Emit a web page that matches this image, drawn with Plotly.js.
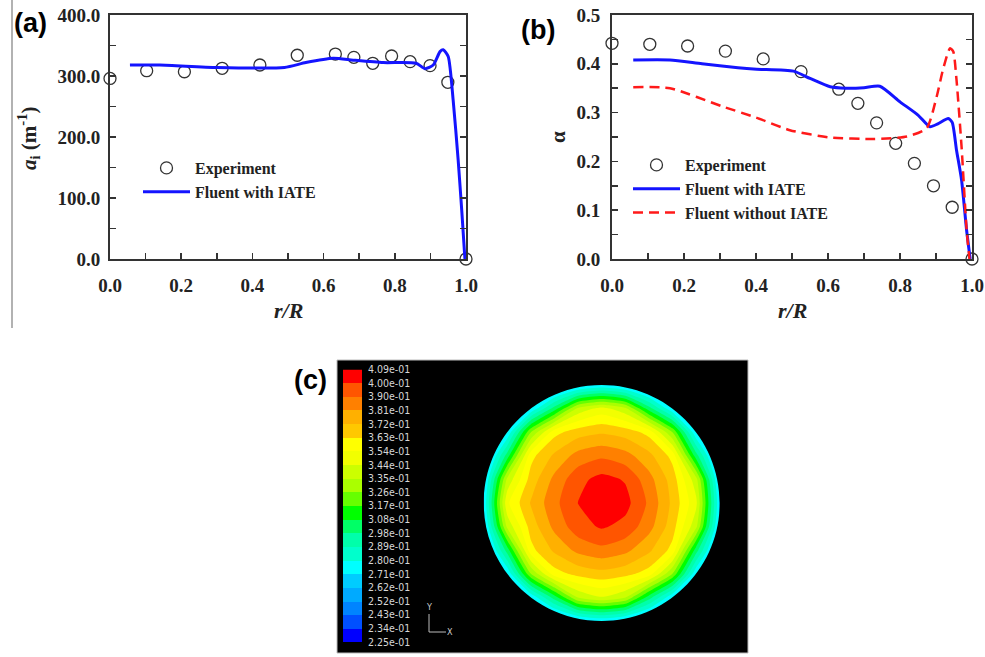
<!DOCTYPE html>
<html><head><meta charset="utf-8">
<script src="https://cdn.plot.ly/plotly-3.0.1.min.js"></script>
<style>html,body{margin:0;padding:0;background:#fff}#chart{width:985px;height:657px}</style>
</head><body><div id="chart"></div>
<script>
// ---------- Panel (a): interfacial area concentration ----------
const aExpR  = [0, 0.103, 0.209, 0.315, 0.421, 0.526, 0.633, 0.685, 0.738, 0.791, 0.843, 0.899, 0.949, 1.0];
const aExpAi = [296, 308.7, 307, 312.6, 318, 334, 336, 330.6, 320.8, 332.8, 323.5, 317, 289.7, 0];
const aFluR  = [0.056, 0.14, 0.30, 0.49, 0.55, 0.627, 0.683, 0.768, 0.86, 0.885, 0.908, 0.927, 0.936, 0.95, 0.964, 0.978, 0.988, 0.997];
const aFluAi = [318, 318, 314, 314, 322, 329, 326, 322, 321, 312, 318, 340, 343, 332, 260, 162, 80, 0];

// ---------- Panel (b): void fraction ----------
const bExpR      = [0, 0.105, 0.21, 0.315, 0.42, 0.525, 0.63, 0.683, 0.735, 0.788, 0.84, 0.893, 0.945, 1.0];
const bExpAlpha  = [0.442, 0.44, 0.4365, 0.426, 0.41, 0.384, 0.348, 0.319, 0.279, 0.237, 0.196, 0.15, 0.106, 0.0];
const bIateR     = [0.059, 0.161, 0.25, 0.35, 0.402, 0.504, 0.55, 0.606, 0.65, 0.70, 0.744, 0.80, 0.85, 0.883, 0.905, 0.934, 0.945, 0.957, 0.971, 0.985, 0.995];
const bIateAlpha = [0.408, 0.408, 0.400, 0.392, 0.389, 0.385, 0.370, 0.353, 0.350, 0.351, 0.354, 0.322, 0.295, 0.271, 0.277, 0.288, 0.280, 0.223, 0.162, 0.059, 0.0];
const bNoR       = [0.059, 0.161, 0.309, 0.40, 0.494, 0.606, 0.726, 0.819, 0.874, 0.902, 0.92, 0.939, 0.948, 0.957, 0.971, 0.985, 0.993];
const bNoAlpha   = [0.352, 0.35, 0.312, 0.29, 0.264, 0.249, 0.246, 0.251, 0.268, 0.333, 0.39, 0.432, 0.425, 0.367, 0.23, 0.06, 0.0];

// ---------- Panel (c): cross-section void fraction contour ----------
const gridX = [-1, -0.8, -0.6, -0.4, -0.2, 0, 0.2, 0.4, 0.6, 0.8, 1];
const gridY = [-1, -0.8, -0.6, -0.4, -0.2, 0, 0.2, 0.4, 0.6, 0.8, 1];
const alphaGrid = [
  [0.235, 0.240, 0.245, 0.255, 0.266, 0.272, 0.266, 0.255, 0.245, 0.240, 0.235],
  [0.240, 0.250, 0.272, 0.303, 0.336, 0.344, 0.336, 0.303, 0.272, 0.250, 0.240],
  [0.245, 0.272, 0.326, 0.359, 0.366, 0.369, 0.366, 0.359, 0.326, 0.272, 0.245],
  [0.255, 0.303, 0.360, 0.374, 0.384, 0.388, 0.384, 0.374, 0.360, 0.303, 0.255],
  [0.266, 0.338, 0.367, 0.384, 0.396, 0.401, 0.397, 0.385, 0.367, 0.338, 0.266],
  [0.272, 0.352, 0.373, 0.388, 0.400, 0.409, 0.403, 0.389, 0.370, 0.347, 0.272],
  [0.266, 0.338, 0.367, 0.384, 0.397, 0.403, 0.399, 0.385, 0.368, 0.339, 0.266],
  [0.255, 0.303, 0.360, 0.374, 0.385, 0.389, 0.385, 0.375, 0.360, 0.303, 0.255],
  [0.245, 0.272, 0.326, 0.360, 0.368, 0.371, 0.368, 0.360, 0.326, 0.272, 0.245],
  [0.240, 0.250, 0.272, 0.303, 0.338, 0.348, 0.338, 0.303, 0.272, 0.250, 0.240],
  [0.235, 0.240, 0.245, 0.255, 0.266, 0.272, 0.266, 0.255, 0.245, 0.240, 0.235]
];
const levelValues = [0.225, 0.2342, 0.2434, 0.2526, 0.2618, 0.271, 0.2802, 0.2894, 0.2986, 0.3078, 0.317,
                     0.3262, 0.3354, 0.3446, 0.3538, 0.363, 0.3722, 0.3814, 0.3906, 0.3998, 0.409];
const levelLabels = ["2.25e-01","2.34e-01","2.43e-01","2.52e-01","2.62e-01","2.71e-01","2.80e-01","2.89e-01",
                     "2.98e-01","3.08e-01","3.17e-01","3.26e-01","3.35e-01","3.44e-01","3.54e-01","3.63e-01",
                     "3.72e-01","3.81e-01","3.90e-01","4.00e-01","4.09e-01"];
const bandColors = ["#0000ff","#0050ff","#0084ff","#00aaff","#00ccff","#00ffff","#00ffcc","#00ffaa","#00ff66","#00ff00",
                    "#66ff00","#aaff00","#ccff00","#f2ff00","#ffff00","#ffc800","#ffb000","#ff8000","#ff5500","#ff0000"];

// ---------- helpers (style only) ----------
const W = 985, H = 657;
const px = v => v / W;            // pixel -> paper x
const py = v => 1 - v / H;        // pixel -> paper y
const serif = '"Liberation Serif", "Times New Roman", Times, serif';
const sans = '"Liberation Sans", Arial, sans-serif';
const narrow = '"Liberation Sans Narrow", "Arial Narrow", "DejaVu Sans Condensed", sans-serif';
const ink = '#222';

function frameAxis(extra) {
  return Object.assign({
    showgrid: false, zeroline: false, showline: true, linecolor: '#333', linewidth: 2,
    ticks: 'inside', ticklen: 6, tickwidth: 1.5, tickcolor: '#333',
    tickfont: {family: serif, size: 19, color: ink, weight: 'bold'},
    fixedrange: true
  }, extra);
}
function note(text, x, y, font, extra) {
  return Object.assign({text, x: px(x), y: py(y), xref: 'paper', yref: 'paper', showarrow: false,
                        xanchor: 'center', yanchor: 'middle', font}, extra || {});
}

const nBands = bandColors.length;
// contour fill colour of band k is sampled at normalized (k+1)/(nBands+1)
const contourScale = [[0, bandColors[0]]];
for (let k = 0; k < nBands; k++) contourScale.push([(k + 1) / (nBands + 1), bandColors[k]]);
contourScale.push([1, bandColors[nBands - 1]]);
const heatScale = [];
bandColors.forEach((c, k) => { heatScale.push([k / nBands, c]); heatScale.push([(k + 1) / nBands, c]); });

const kc = 0.5523;
const maskPath = 'M -1.3,-1.3 H 1.3 V 1.3 H -1.3 Z ' +
  `M 1,0 C 1,${kc} ${kc},1 0,1 C ${-kc},1 -1,${kc} -1,0 C -1,${-kc} ${-kc},-1 0,-1 C ${kc},-1 1,${-kc} 1,0 Z`;

const traces = [
  {type: 'scatter', mode: 'markers', x: aExpR, y: aExpAi, name: '<b>Experiment</b>', legend: 'legend',
   xaxis: 'x', yaxis: 'y', cliponaxis: false,
   marker: {symbol: 'circle-open', size: 12, color: '#333', line: {width: 1.3}}},
  {type: 'scatter', mode: 'lines', x: aFluR, y: aFluAi, name: '<b>Fluent with IATE</b>', legend: 'legend',
   xaxis: 'x', yaxis: 'y', line: {color: '#1414ff', width: 3, shape: 'spline', smoothing: 0.6}},
  {type: 'scatter', mode: 'markers', x: bExpR, y: bExpAlpha, name: '<b>Experiment</b>', legend: 'legend2',
   xaxis: 'x2', yaxis: 'y2', cliponaxis: false,
   marker: {symbol: 'circle-open', size: 12, color: '#333', line: {width: 1.3}}},
  {type: 'scatter', mode: 'lines', x: bIateR, y: bIateAlpha, name: '<b>Fluent with IATE</b>', legend: 'legend2',
   xaxis: 'x2', yaxis: 'y2', line: {color: '#1414ff', width: 3, shape: 'spline', smoothing: 0.6}},
  {type: 'scatter', mode: 'lines', x: bNoR, y: bNoAlpha, name: '<b>Fluent without IATE</b>', legend: 'legend2',
   xaxis: 'x2', yaxis: 'y2', line: {color: '#ff1a1a', width: 2.5, dash: '10px,6px', shape: 'spline', smoothing: 0.6}},
  {type: 'contour', x: gridX, y: gridY, z: alphaGrid, xaxis: 'x3', yaxis: 'y3',
   autocontour: false,
   contours: {start: levelValues[0], end: levelValues[levelValues.length - 1],
              size: (levelValues[levelValues.length - 1] - levelValues[0]) / nBands,
              coloring: 'fill', showlines: false},
   line: {width: 0, smoothing: 0.55}, colorscale: contourScale, showscale: false, showlegend: false, hoverinfo: 'skip'},
  {type: 'heatmap', x: [0, 1], y: levelValues, z: bandColors.map((c, i) => [i]), xaxis: 'x4', yaxis: 'y4',
   colorscale: heatScale, zmin: -0.5, zmax: nBands - 0.5, showscale: false, showlegend: false, hoverinfo: 'skip'}
];

const legendBase = {
  bgcolor: 'rgba(0,0,0,0)', borderwidth: 0, xanchor: 'left', yanchor: 'top',
  font: {family: serif, size: 16, color: ink}, itemwidth: 47, tracegroupgap: 0
};

const layout = {
  width: W, height: H, margin: {l: 0, r: 0, t: 0, b: 0},
  paper_bgcolor: '#fff', plot_bgcolor: 'rgba(0,0,0,0)', showlegend: true,
  legend: Object.assign({}, legendBase, {x: px(138), y: py(151)}),
  legend2: Object.assign({}, legendBase, {x: px(628), y: py(148)}),
  xaxis: frameAxis({domain: [px(110), px(466)], range: [0, 1], dtick: 0.2, tickformat: '.1f', mirror: true,
                    anchor: 'y', ticklabelstandoff: 8,
                    minor: {dtick: 0.1, ticks: 'inside', ticklen: 6, tickwidth: 1.5, tickcolor: '#333'}}),
  yaxis: frameAxis({domain: [py(259), py(15)], range: [0, 400], dtick: 100, tickformat: '.1f', mirror: 'ticks',
                    anchor: 'x', ticklabelstandoff: 4,
                    minor: {dtick: 50, ticks: 'inside', ticklen: 6, tickwidth: 1.5, tickcolor: '#333'}}),
  xaxis2: frameAxis({domain: [px(612), px(972)], range: [0, 1], dtick: 0.2, tickformat: '.1f', mirror: true,
                     anchor: 'y2', ticklabelstandoff: 8,
                     minor: {dtick: 0.1, ticks: 'inside', ticklen: 6, tickwidth: 1.5, tickcolor: '#333'}}),
  yaxis2: frameAxis({domain: [py(259), py(15)], range: [0, 0.5], dtick: 0.1, tickformat: '.1f', mirror: 'ticks',
                     anchor: 'x2', ticklabelstandoff: 6,
                     minor: {dtick: 0.05, ticks: 'inside', ticklen: 6, tickwidth: 1.5, tickcolor: '#333'}}),
  xaxis3: {domain: [px(470), px(735)], range: [-1.1161, 1.1297], visible: false, anchor: 'y3', fixedrange: true},
  yaxis3: {domain: [py(640), py(370)], range: [-1.1610, 1.1271], visible: false, anchor: 'x3', fixedrange: true},
  xaxis4: {domain: [px(343), px(362)], range: [0, 1], visible: false, anchor: 'y4', fixedrange: true},
  yaxis4: {domain: [py(642), py(369.5)], range: [levelValues[0], levelValues[levelValues.length - 1]],
           anchor: 'x4', side: 'right', showgrid: false, zeroline: false, showline: false, ticks: '',
           tickvals: levelValues, ticktext: levelLabels, ticklabelstandoff: 5, fixedrange: true,
           tickfont: {family: narrow, size: 10.5, color: '#d6d6d6'}},
  shapes: [
    {type: 'line', xref: 'paper', yref: 'paper', x0: px(12), x1: px(12), y0: py(328), y1: 1,
     line: {color: '#999', width: 1.5}},
    {type: 'rect', xref: 'paper', yref: 'paper', x0: px(337), x1: px(748), y0: py(653), y1: py(360),
     fillcolor: '#000', line: {color: '#bbb', width: 1}, layer: 'below'},
    {type: 'path', xref: 'x3', yref: 'y3', path: maskPath, fillcolor: '#000', fillrule: 'evenodd',
     line: {width: 0}, layer: 'above'},
    {type: 'line', xref: 'paper', yref: 'paper', x0: px(429), x1: px(429), y0: py(614), y1: py(632),
     line: {color: '#bbb', width: 1}},
    {type: 'line', xref: 'paper', yref: 'paper', x0: px(429), x1: px(446), y0: py(632), y1: py(632),
     line: {color: '#bbb', width: 1}}
  ],
  annotations: [
    note('<b>(a)</b>', 30, 23, {family: sans, size: 27, color: '#000'}),
    note('<b>(b)</b>', 538, 30, {family: sans, size: 27, color: '#000'}),
    note('<b>(c)</b>', 310, 380, {family: sans, size: 27, color: '#000'}),
    note('<b><i>r/R</i></b>', 288, 310, {family: serif, size: 22, color: ink}),
    note('<b><i>r/R</i></b>', 792, 310, {family: serif, size: 22, color: ink}),
    note('<b><i>a</i><sub>i</sub> (m<sup>-1</sup>)</b>', 28, 138, {family: serif, size: 21, color: ink}, {textangle: -90}),
    note('<b>α</b>', 558, 137, {family: serif, size: 21, color: ink}, {textangle: -90}),
    note('Y', 429, 607, {family: narrow, size: 9, color: '#ccc'}),
    note('X', 450, 632, {family: narrow, size: 9, color: '#ccc'})
  ]
};

Plotly.newPlot('chart', traces, layout, {staticPlot: true, displayModeBar: false});
</script>
</body></html>
